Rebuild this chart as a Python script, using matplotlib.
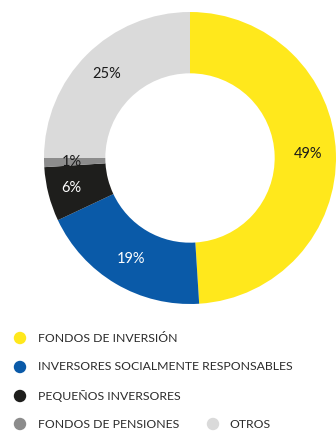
import matplotlib
matplotlib.use("Agg")
import matplotlib.pyplot as plt
import numpy as np

# data
categories = ["FONDOS DE INVERSIÓN", "INVERSORES SOCIALMENTE RESPONSABLES",
              "PEQUEÑOS INVERSORES", "FONDOS DE PENSIONES", "OTROS"]
shares = [49, 19, 6, 1, 25]
colors = ["#FFE81C", "#0A5AA8", "#1E1E1C", "#8C8C8C", "#DADADA"]
label_colors = ["#1a1a1a", "white", "white", "#1a1a1a", "#1a1a1a"]

W, H = 336, 433
fig = plt.figure(figsize=(W / 100, H / 100), dpi=100)
plt.rcParams["font.family"] = ["Lato", "DejaVu Sans"]

# donut
cx, cy, r = 190, 158, 146
ax = fig.add_axes([(cx - r) / W, (H - cy - r) / H, 2 * r / W, 2 * r / H])
wedges, _ = ax.pie(shares, colors=colors, startangle=90, counterclock=False,
                   radius=1.0, wedgeprops=dict(width=0.42, edgecolor="none"))
ax.set_xlim(-1, 1)
ax.set_ylim(-1, 1)
ax.set_aspect("equal")
ax.axis("off")

angle = 90.0
label_r = [0.81, 0.80, 0.84, 0.81, 0.81]
for s, lc, lr in zip(shares, label_colors, label_r):
    span = s / 100 * 360
    mid = np.deg2rad(angle - span / 2)
    angle -= span
    ax.text(lr * np.cos(mid), lr * np.sin(mid), f"{s}%", ha="center",
            va="center", color=lc, fontsize=10.5)

# legend
lg = fig.add_axes([0, 0, 1, 1])
lg.set_xlim(0, W)
lg.set_ylim(H, 0)
lg.axis("off")
rows = [(20, 338, 38), (20, 367, 38), (20, 396, 38), (20, 424, 38), (213, 424, 229)]
for (mx, my, tx), name, c in zip(rows, categories, colors):
    lg.scatter([mx], [my], s=80, color=c, edgecolors="none")
    lg.text(tx, my, name, ha="left", va="center", fontsize=8.8, color="#2b2b2b")

fig.savefig("out.png", dpi=100)
